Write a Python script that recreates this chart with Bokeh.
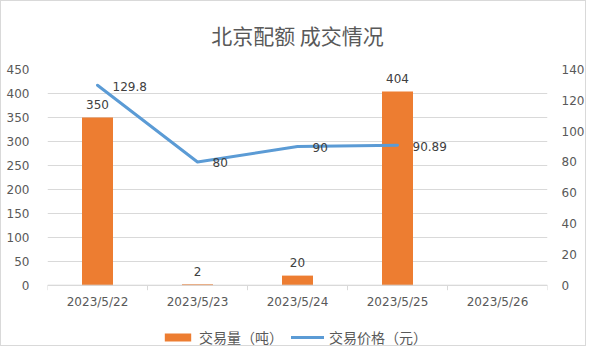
import math
from bokeh.plotting import figure
from bokeh.models import (Range1d, LinearAxis, FixedTicker, Legend, LegendItem,
                          Title, Span)
from bokeh.core.properties import value
from bokeh.embed import file_html
from bokeh.resources import INLINE

title = "北京配额 成交情况"
dates = ["2023/5/22", "2023/5/23", "2023/5/24", "2023/5/25", "2023/5/26"]
volume = [350, 2, 20, 404, None]           # 交易量（吨）
price = [129.8, 80, 90, 90.89, None]       # 交易价格（元）
volume_name = "交易量（吨）"
price_name = "交易价格（元）"
vol_ticks = list(range(0, 451, 50))
price_ticks = list(range(0, 141, 20))

NUM_FONT = value("DejaVu Sans")
CJK_FONT = "Noto Sans CJK SC"
GRID = "#D9D9D9"
TXT = "#595959"

# category slot centres on a numeric axis (slot i spans [i, i+1])
centers = [i + 0.5 for i in range(len(dates))]
edges = list(range(len(dates) + 1))
vol_x = [c for c, v in zip(centers, volume) if v is not None]
vol_v = [v for v in volume if v is not None]
pr_x = [c for c, v in zip(centers, price) if v is not None]
pr_v = [v for v in price if v is not None]

# the frame extends below zero to hold the category labels and legend
VMAX, PMAX = 450, 140
VMIN = -130
PMIN = VMIN * PMAX / VMAX

p = figure(width=586, height=346, x_range=Range1d(0, len(dates)), y_range=Range1d(VMIN, VMAX),
           output_backend="svg", toolbar_location=None, x_axis_location=None,
           y_axis_location=None,
           min_border_left=46, min_border_right=30, min_border_top=65, min_border_bottom=0)
p.outline_line_color = None
p.background_fill_color = "white"
p.border_fill_color = "white"
p.styles = {"border": "1px solid #D9D9D9"}
p.extra_y_ranges = {"right": Range1d(PMIN, PMAX)}

t = Title(text=title, align="center", vertical_align="top", text_font=CJK_FONT,
          text_font_size="21px", text_font_style="normal", text_color=TXT, standoff=36)
p.add_layout(t, "above")

ly = LinearAxis(ticker=FixedTicker(ticks=vol_ticks), axis_line_color=None,
                major_tick_line_color=None, minor_tick_line_color=None,
                major_label_text_font="DejaVu Sans", major_label_text_font_size="12px",
                major_label_text_color=TXT, major_label_standoff=12)
p.add_layout(ly, "left")
ry = LinearAxis(y_range_name="right", ticker=FixedTicker(ticks=price_ticks), axis_line_color=None,
                major_tick_line_color=None, minor_tick_line_color=None,
                major_label_text_font="DejaVu Sans", major_label_text_font_size="12px",
                major_label_text_color=TXT, major_label_standoff=8)
p.add_layout(ry, "right")

p.ygrid.grid_line_color = GRID
p.ygrid.ticker = FixedTicker(ticks=vol_ticks)
p.xgrid.grid_line_color = None

# category axis: base line, boundary ticks, labels
p.add_layout(Span(location=0, dimension="width", line_color=GRID, line_width=1))
p.ray(x=edges, y=[0] * len(edges), length=5, length_units="screen", angle=-math.pi / 2,
      line_color=GRID, line_width=1)
p.text(x=centers, y=[0] * len(centers), text=dates, text_align="center", text_baseline="middle",
       y_offset=17, text_font=NUM_FONT, text_font_size="12px", text_color=TXT)

bars = p.vbar(x=vol_x, top=vol_v, width=0.31, color="#ED7D31", line_color=None)
line = p.line(x=pr_x, y=pr_v, y_range_name="right", line_width=3, line_color="#5B9BD5",
              line_join="round", line_cap="round")

p.text(x=vol_x, y=vol_v, text=[str(v) for v in vol_v], text_align="center",
       text_baseline="alphabetic", y_offset=-13, text_font=NUM_FONT, text_font_size="12px",
       text_color="#404040")
p.text(x=pr_x, y=pr_v, text=[f"{v:g}" for v in pr_v], y_range_name="right", text_align="left",
       text_baseline="middle", x_offset=15, y_offset=1, text_font=NUM_FONT, text_font_size="12px",
       text_color="#404040")

legend = Legend(items=[LegendItem(label=volume_name, renderers=[bars]),
                       LegendItem(label=price_name, renderers=[line])],
                orientation="horizontal", location=(114, 0),
                label_text_font=CJK_FONT, label_text_font_size="14px", label_text_color=TXT,
                glyph_width=33, glyph_height=10, label_standoff=5, spacing=8,
                border_line_color=None, background_fill_alpha=0, padding=0, margin=0)
p.add_layout(legend, "center")

open("out.html", "w").write(file_html(p, INLINE))
